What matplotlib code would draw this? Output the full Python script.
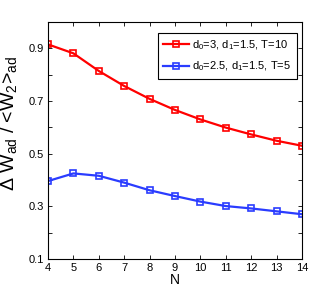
import matplotlib
matplotlib.use("Agg")
import matplotlib.pyplot as plt
import numpy as np

N = [4, 5, 6, 7, 8, 9, 10, 11, 12, 13, 14]
red_vals = [0.915, 0.881, 0.814, 0.757, 0.708, 0.666, 0.630, 0.599, 0.573, 0.549, 0.530]
blue_vals = [0.396, 0.425, 0.416, 0.390, 0.361, 0.339, 0.318, 0.301, 0.292, 0.281, 0.270]
red_label = r'd$_0$=3, d$_1$=1.5, T=10'
blue_label = r'd$_0$=2.5, d$_1$=1.5, T=5'
ytick_vals = [0.1, 0.2, 0.3, 0.4, 0.5, 0.6, 0.7, 0.8, 0.9, 1.0]
ytick_labels = ['0.1', '', '0.3', '', '0.5', '', '0.7', '', '0.9', '']

plt.rcParams['font.family'] = ['Liberation Sans', 'DejaVu Sans']
plt.rcParams['mathtext.fontset'] = 'custom'
plt.rcParams['mathtext.rm'] = 'Liberation Sans'
plt.rcParams['mathtext.it'] = 'Liberation Sans'
plt.rcParams['mathtext.default'] = 'regular'

fig = plt.figure(figsize=(3.32, 2.93), dpi=100)
ax = fig.add_axes([48/332, 34/293, 254/332, 237/293])

ax.plot(N, red_vals, color='#ff0000', lw=1.6, marker='s', ms=4.5,
        mfc='none', mec='#ff0000', mew=1.2, label=red_label)
ax.plot(N, blue_vals, color='#2a3cff', lw=1.6, marker='s', ms=4.5,
        mfc='none', mec='#2a3cff', mew=1.2, label=blue_label)

ax.set_xlim(4, 14)
ax.set_ylim(0.1, 1.0)
ax.set_xticks(N)
ax.set_yticks(ytick_vals)
ax.set_yticklabels(ytick_labels)
ax.tick_params(direction='in', length=3, width=0.6, labelsize=8, top=True, right=True, pad=3)
for s in ax.spines.values():
    s.set_linewidth(0.8)

ax.set_xlabel('N', fontsize=10, labelpad=0)
ax.set_ylabel(r'$\Delta$ W$_{ad}$ / <W$_2$>$_{ad}$', fontsize=14)
ax.yaxis.set_label_coords(-0.115, 0.57)

leg = ax.legend(loc='upper right', bbox_to_anchor=(0.98, 0.954), fontsize=8,
                frameon=True, fancybox=False, edgecolor='black', framealpha=1,
                handlelength=2.3, handletextpad=0.3, borderpad=0.5, labelspacing=0.7,
                borderaxespad=0.0)
leg.get_frame().set_linewidth(0.8)

fig.savefig('out.png', dpi=100)
